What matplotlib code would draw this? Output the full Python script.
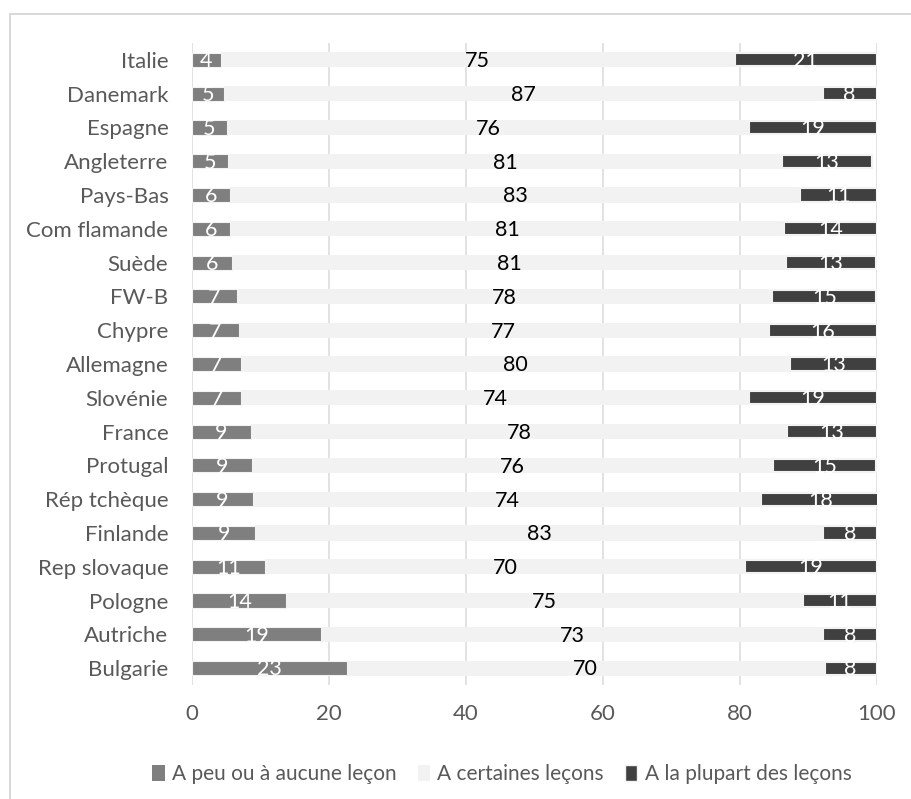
import matplotlib
matplotlib.use("Agg")
import matplotlib.pyplot as plt
from matplotlib.lines import Line2D
from matplotlib.patches import Patch
import numpy as np

plt.rcParams['font.family'] = ['Lato', 'DejaVu Sans']

# Share of teaching (in %) per country, three answer categories
countries = ["Italie", "Danemark", "Espagne", "Angleterre", "Pays-Bas",
             "Com flamande", "Suède", "FW-B", "Chypre", "Allemagne",
             "Slovénie", "France", "Protugal", "Rép tchèque", "Finlande",
             "Rep slovaque", "Pologne", "Autriche", "Bulgarie"]
peu_aucune = [4.2, 4.7, 5.1, 5.3, 5.6, 5.6, 5.9, 6.6, 6.8, 7.1,
              7.2, 8.6, 8.7, 8.9, 9.25, 10.6, 13.8, 18.8, 22.6]
certaines = [75.1, 87.4, 76.3, 80.9, 83.2, 80.9, 80.85, 78.15, 77.4, 80.3,
             74.15, 78.3, 76.15, 74.2, 82.95, 70.2, 75.4, 73.4, 69.8]
plupart = [20.7, 7.9, 18.6, 13.1, 11.2, 13.6, 13.2, 15.2, 15.8, 12.6,
           18.65, 13.1, 15.1, 17.5, 7.8, 19.2, 10.8, 7.8, 7.6]
series_names = ["A peu ou à aucune leçon", "A certaines leçons",
                "A la plupart des leçons"]
x_ticks = [0, 20, 40, 60, 80, 100]

c_mid = "#7F7F7F"
c_light = "#F2F2F2"
c_dark = "#404040"
c_text = "#595959"
c_grid = "#D9D9D9"

W, H = 911, 799
fig = plt.figure(figsize=(W / 100, H / 100), dpi=100)
ax = fig.add_axes([192 / W, 1 - 685 / H, 684.7 / W, 642 / H])

y = np.arange(len(countries))
a = np.array(peu_aucune)
b = np.array(certaines)
c = np.array(plupart)

px = 72 / 100  # points per pixel at this dpi
bar_h = 0.45

ax.barh(y, a, height=0.417, color=c_mid, edgecolor=c_light,
        linewidth=1.1 * px, zorder=3)
ax.barh(y, b, left=a, height=bar_h, color=c_light, linewidth=0, zorder=2)
ax.barh(y, c, left=a + b, height=0.388, color=c_dark, edgecolor=c_light,
        linewidth=2.1 * px, zorder=3)

fs_val = 15.5
dy = 0.04
for i in range(len(countries)):
    ax.text(a[i] / 2, y[i] + dy, f"{a[i]:.0f}", ha="center", va="center",
            color="white", fontsize=fs_val, zorder=4)
    ax.text(a[i] + b[i] / 2, y[i] + dy, f"{b[i]:.0f}", ha="center",
            va="center", color="black", fontsize=fs_val, zorder=4)
    ax.text(a[i] + b[i] + c[i] / 2, y[i] + dy, f"{c[i]:.0f}", ha="center",
            va="center", color="white", fontsize=fs_val, zorder=4)

ax.set_xlim(0, 100)
ax.set_ylim(len(countries) - 0.5, -0.5)
ax.set_xticks(x_ticks)
ax.set_xticklabels([str(t) for t in x_ticks])
ax.set_yticks(y)
ax.set_yticklabels(countries)
ax.tick_params(axis="both", length=0, labelsize=16, labelcolor=c_text)
ax.tick_params(axis="x", pad=13.5)
ax.tick_params(axis="y", pad=17)
for s in ax.spines.values():
    s.set_visible(False)
ax.xaxis.grid(True, color=c_grid, linewidth=1.5 * px, zorder=0)
ax.set_axisbelow(True)

# legend
handles = [Patch(facecolor=c_mid), Patch(facecolor=c_light),
           Patch(facecolor=c_dark, edgecolor=c_light, linewidth=1)]
leg = fig.legend(handles, series_names, loc="center",
                 bbox_to_anchor=(502 / W, 1 - 774 / H), ncol=3, frameon=False,
                 fontsize=15, handlelength=0.6, handleheight=0.8,
                 handletextpad=0.35, columnspacing=1.0, labelcolor=c_text)

# chart frame
fig.add_artist(Line2D([10 / W, 10 / W], [0, 1 - 14 / H], color=c_grid,
                      linewidth=2 * px, transform=fig.transFigure))
fig.add_artist(Line2D([10 / W, 1], [1 - 14 / H, 1 - 14 / H], color=c_grid,
                      linewidth=2 * px, transform=fig.transFigure))

fig.savefig("out.png", dpi=100, facecolor="white")
